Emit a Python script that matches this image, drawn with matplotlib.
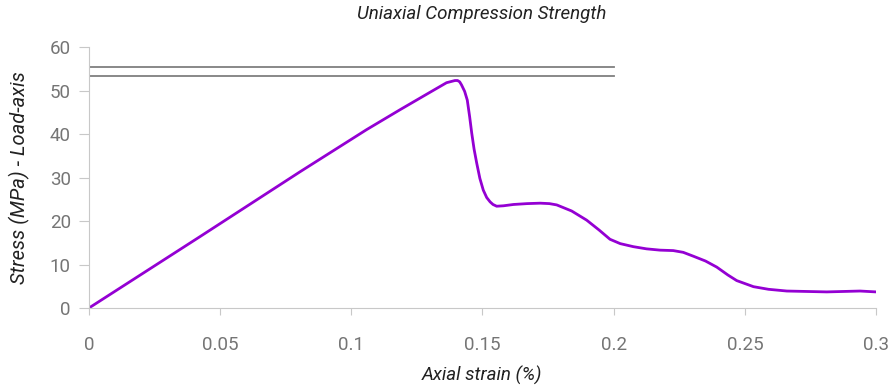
import matplotlib.pyplot as plt

plt.rcParams['font.family'] = ['Roboto', 'DejaVu Sans']

# stress-strain curve
strain = [0.0, 0.0423, 0.0804, 0.1058, 0.1186, 0.13, 0.1363, 0.1395, 0.1405,
          0.1413, 0.142, 0.1432, 0.1442, 0.1451, 0.1459, 0.1468, 0.1478, 0.149,
          0.1503, 0.1516, 0.1529, 0.154, 0.1554, 0.158, 0.1618, 0.167, 0.172,
          0.1755, 0.1783, 0.184, 0.1897, 0.1945, 0.1986, 0.2025, 0.2075, 0.2125,
          0.2177, 0.2227, 0.2265, 0.2304, 0.235, 0.2393, 0.2435, 0.2469, 0.2533,
          0.259, 0.266, 0.2812, 0.2939, 0.3]
stress = [0.0, 16.4, 31.3, 41.0, 45.6, 49.6, 51.8, 52.3, 52.3,
          52.0, 51.3, 49.8, 47.8, 44.0, 40.2, 36.5, 33.3, 29.8,
          27.1, 25.4, 24.4, 23.8, 23.4, 23.5, 23.8, 24.0, 24.1,
          24.0, 23.7, 22.3, 20.2, 17.9, 15.8, 14.8, 14.1, 13.6,
          13.3, 13.2, 12.8, 11.9, 10.8, 9.4, 7.6, 6.3, 4.9,
          4.3, 3.9, 3.7, 3.9, 3.7]

# reference lines
ref_levels = [55.4, 53.3]
ref_xmax = 0.2

xticks = [0, 0.05, 0.1, 0.15, 0.2, 0.25, 0.3]
xtick_labels = ['0', '0.05', '0.1', '0.15', '0.2', '0.25', '0.3']
yticks = [0, 10, 20, 30, 40, 50, 60]

fig = plt.figure(figsize=(8.95, 3.92), dpi=100)
ax = fig.add_axes([0.0994, 0.2143, 0.8794, 0.6657])

for lvl in ref_levels:
    ax.plot([0, ref_xmax], [lvl, lvl], color='#7f7f7f', lw=1.3)
ax.plot(strain, stress, color='#9400d3', lw=2)

ax.set_xlim(0, 0.3)
ax.set_ylim(0, 60)
ax.set_xticks(xticks)
ax.set_xticklabels(xtick_labels)
ax.set_yticks(yticks)

for s in ['top', 'right']:
    ax.spines[s].set_visible(False)
for s in ['left', 'bottom']:
    ax.spines[s].set_color('#c8c8c8')
ax.tick_params(axis='x', colors='#c8c8c8', labelcolor='#757575', length=5,
               pad=15, labelsize=13.5)
ax.tick_params(axis='y', colors='#c8c8c8', labelcolor='#757575', length=7,
               pad=6, labelsize=13.5)

ax.set_xlabel('Axial strain (%)', style='italic', fontsize=13.5, color='#222222', labelpad=9)
ax.set_ylabel('Stress (MPa) - Load-axis', style='italic', fontsize=14.5, color='#222222', labelpad=14)
fig.text(0.5385, 0.965, 'Uniaxial Compression Strength', style='italic', fontsize=13.5,
         color='#222222', ha='center', va='center')

fig.savefig('out.png', dpi=100)
